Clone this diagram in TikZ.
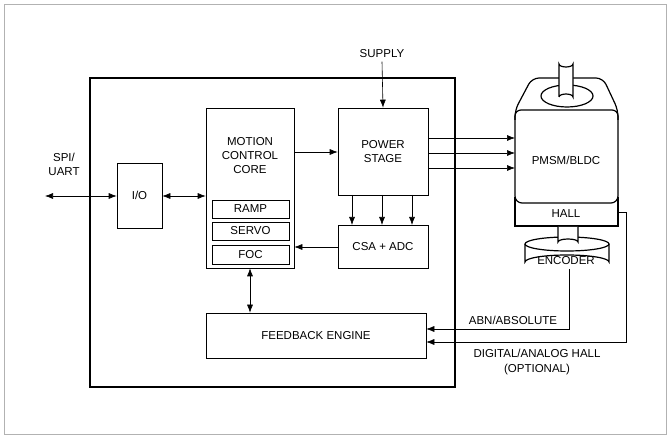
\documentclass[tikz,border=0pt]{standalone}
\usepackage{fontspec}
\setmainfont{Liberation Sans}
\usetikzlibrary{arrows.meta}
\begin{document}
\begin{tikzpicture}[x=1pt,y=-1pt,
  blk/.style={draw,line width=0.6pt,inner sep=0pt},
  lbl/.style={font=\fontsize{11.5}{14}\selectfont,align=center},
  arr/.style={-{Latex[length=8pt,width=6pt]},line width=0.6pt},
  darr/.style={{Latex[length=8pt,width=6pt]}-{Latex[length=8pt,width=6pt]},line width=0.6pt}]
\useasboundingbox (0,0) rectangle (670,438);
\draw[gray!60,line width=0.6pt] (4,4) rectangle (666,434);
\draw[line width=1.4pt] (90,78) rectangle (455,387);
% boxes
\node[blk,minimum width=45pt,minimum height=65pt] (io) at (139.5,195.5) {};
\node[lbl] at (io) {I/O};
\node[blk,minimum width=88pt,minimum height=160pt] (mcc) at (250,188) {};
\node[lbl] at (250,156) {MOTION\\CONTROL\\CORE};
\node[blk,minimum width=77pt,minimum height=18pt] (ramp) at (250.5,209) {};
\node[lbl] at (ramp) {RAMP};
\node[blk,minimum width=77pt,minimum height=18pt] (servo) at (250.5,231) {};
\node[lbl] at (servo) {SERVO};
\node[blk,minimum width=77pt,minimum height=19pt] (foc) at (250.5,254.5) {};
\node[lbl] at (foc) {FOC};
\node[blk,minimum width=90pt,minimum height=87pt] (ps) at (383,151.5) {};
\node[lbl] at (ps) {POWER\\STAGE};
\node[blk,minimum width=90pt,minimum height=43pt] (csa) at (383,246.5) {};
\node[lbl] at (csa) {CSA + ADC};
\node[blk,minimum width=220pt,minimum height=45pt] (fb) at (316,335.5) {};
\node[lbl] at (fb) {FEEDBACK ENGINE};
% labels
\node[lbl] (spi) at (64,164) {SPI/\\UART};
\node[lbl] (sup) at (382,54) {SUPPLY};
\node[lbl] at (513,320) {ABN/ABSOLUTE};
\node[lbl] at (537,353) {DIGITAL/ANALOG HALL};
\node[lbl] at (537,370) {(OPTIONAL)};
% motor
\draw[line width=1.2pt] (515,198) rectangle (618,226);
\draw[line width=1.2pt,fill=white,rounded corners=7pt] (515,110) -- (532,78) -- (603,78) -- (618,110) -- (618,203) -- (515,203) -- cycle;
\draw[line width=1.2pt,rounded corners=6pt] (515,120) -- (515,110) -- (618,110) -- (618,120);
\draw[line width=1.2pt] (567,96) ellipse (26pt and 11pt);
\draw[line width=1.2pt,fill=white] (559,97) -- (559,64) arc[start angle=180,end angle=0,x radius=7,y radius=3] -- (573,97) arc[start angle=0,end angle=-180,x radius=7,y radius=3];
\node[lbl] (motor) at (566,160) {PMSM/BLDC};
\node[lbl] (hall) at (566,214) {HALL};
\draw[line width=1.2pt,fill=white] (525,244) -- (525,262) arc[start angle=180,end angle=360,x radius=42,y radius=7] -- (609,244);
\draw[line width=1.2pt,fill=white] (567,244) ellipse (42pt and 7pt);
\draw[line width=1.2pt,fill=white] (558,227) -- (558,242) arc[start angle=180,end angle=360,x radius=10,y radius=3] -- (578,227);
\node[lbl] (enc) at (566,261) {ENCODER};
\coordinate (ma) at (515,138); \coordinate (mb) at (515,153); \coordinate (mc) at (515,168);
% connectors
\draw[darr] (45,196) -- (io.west|-0,196);
\draw[darr] (io.east|-0,196) -- (mcc.west|-0,196);
\draw[arr] (mcc.east|-0,152) -- (ps.west|-0,152);
\draw[arr] (sup.south) -- (ps.north);
\foreach \y/\c in {138/ma,153/mb,168/mc} \draw[arr] (ps.east|-0,\y) -- (\c);
\foreach \x in {352,382,412} \draw[arr] (\x,195) -- (\x,225);
\draw[arr] (csa.west|-0,247) -- (mcc.east|-0,247);
\draw[darr] (mcc.south) -- (fb.north-|mcc.south);
\draw[arr,line width=0.5pt] (569,269) -- (569,329) -- (fb.east|-0,329);
\draw[arr,line width=0.5pt] (619,212) -- (626,212) -- (626,342) -- (fb.east|-0,342);
\end{tikzpicture}
\end{document}
